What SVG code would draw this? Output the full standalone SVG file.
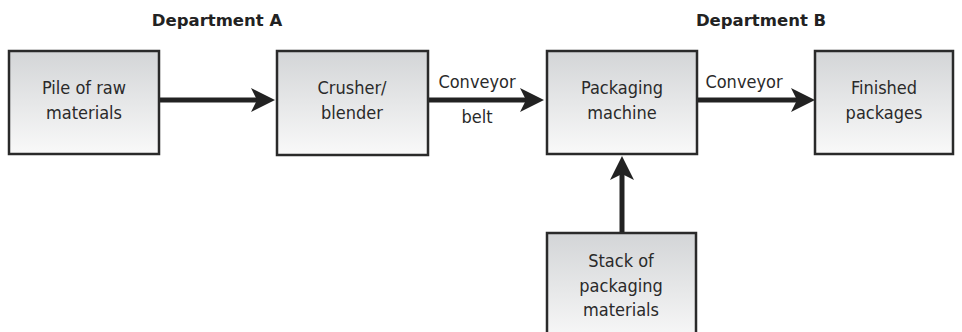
<svg xmlns="http://www.w3.org/2000/svg" width="962" height="332" viewBox="0 0 962 332">
  <style>
    .box { fill: url(#boxFill); stroke: #2a2a2a; stroke-width: 2.5; }
    .lbl { font-family: "DejaVu Sans Condensed", "DejaVu Sans", sans-serif; font-size: 18px; fill: #2a2a2a; text-anchor: middle; }
    .dept { font-family: "DejaVu Sans", sans-serif; font-weight: bold; font-size: 16.5px; fill: #222; text-anchor: middle; }
    .flow { stroke: #222; stroke-width: 5; fill: none; marker-end: url(#head); }
  </style>
  <defs>
    <linearGradient id="boxFill" x1="0" y1="0" x2="0" y2="1">
      <stop offset="0" stop-color="#d3d5d7"/>
      <stop offset="1" stop-color="#f9f9f9"/>
    </linearGradient>
    <!-- head is anchored at its notch so the shaft ends inside it -->
    <marker id="head" markerUnits="userSpaceOnUse" markerWidth="26" markerHeight="26" refX="6" refY="12" orient="auto">
      <path d="M0,0 L24,12 L0,24 L6,12 Z" fill="#222"/>
    </marker>
  </defs>

  <text class="dept" x="217" y="26">Department A</text>
  <text class="dept" x="761" y="26">Department B</text>

  <g id="connectors">
    <line class="flow" x1="160" y1="100" x2="257" y2="100"/>
    <line class="flow" x1="429" y1="100" x2="526" y2="100"/>
    <line class="flow" x1="698" y1="100" x2="797" y2="100"/>
    <line class="flow" x1="622" y1="232" x2="622" y2="174"/>
    <text class="lbl" x="477" y="88">Conveyor</text>
    <text class="lbl" x="477" y="123">belt</text>
    <text class="lbl" x="744" y="88">Conveyor</text>
  </g>

  <g id="pile">
    <rect class="box" x="9" y="51" width="150" height="103"/>
    <text class="lbl" x="84" y="94">Pile of raw</text>
    <text class="lbl" x="84" y="119">materials</text>
  </g>
  <g id="crusher">
    <rect class="box" x="277" y="51" width="151" height="104"/>
    <text class="lbl" x="352" y="94">Crusher/</text>
    <text class="lbl" x="352" y="119">blender</text>
  </g>
  <g id="packaging-machine">
    <rect class="box" x="547" y="51" width="150" height="103"/>
    <text class="lbl" x="622" y="94">Packaging</text>
    <text class="lbl" x="622" y="119">machine</text>
  </g>
  <g id="finished">
    <rect class="box" x="815" y="51" width="138" height="103"/>
    <text class="lbl" x="884" y="94">Finished</text>
    <text class="lbl" x="884" y="119">packages</text>
  </g>
  <g id="stack">
    <rect class="box" x="547" y="233" width="149" height="110"/>
    <text class="lbl" x="621" y="267">Stack of</text>
    <text class="lbl" x="621" y="292">packaging</text>
    <text class="lbl" x="621" y="316">materials</text>
  </g>
</svg>
